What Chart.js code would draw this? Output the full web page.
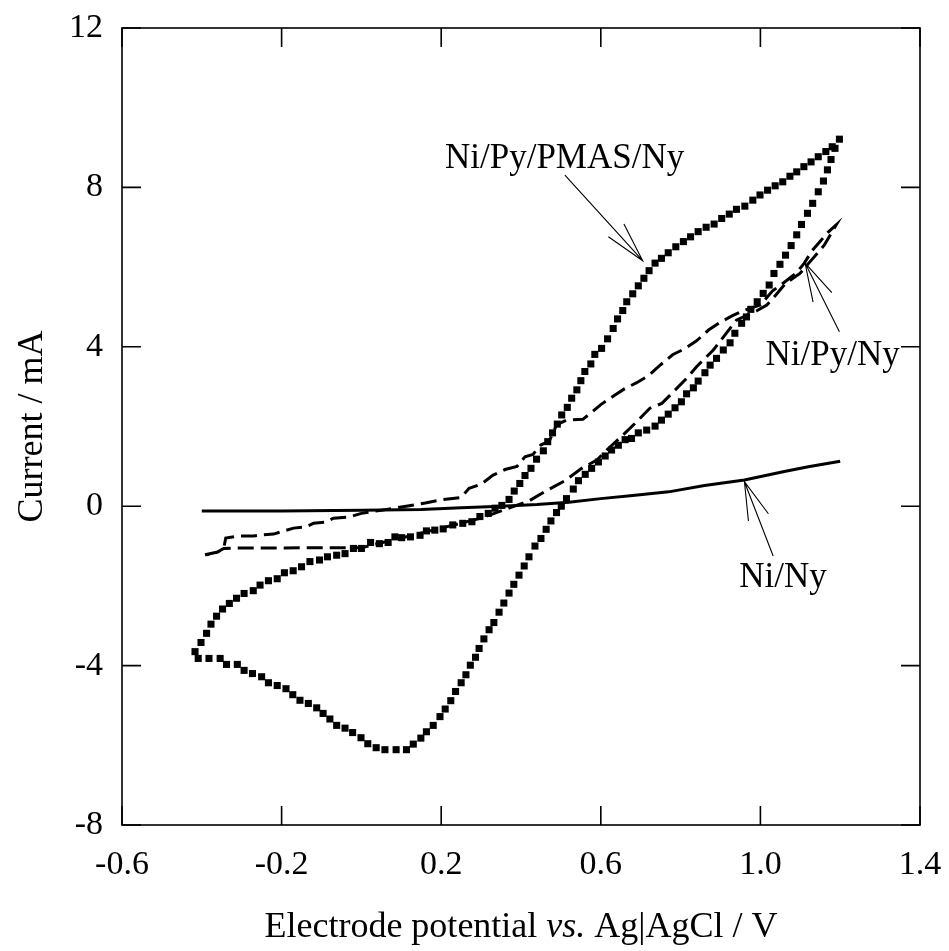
<!DOCTYPE html>
<html>
<head>
<meta charset="utf-8">
<script src="https://cdn.jsdelivr.net/npm/chart.js@4.4.1/dist/chart.umd.min.js"></script>
<style>
html,body{margin:0;padding:0;background:#fff;}
#wrap{width:949px;height:951px;}
</style>
</head>
<body>
<div id="wrap"><canvas id="c" width="949" height="951"></canvas></div>
<script>
// ---------- data ----------
const xTickValues = [-0.6, -0.2, 0.2, 0.6, 1.0, 1.4];
const yTickValues = [-8, -4, 0, 4, 8, 12];

const seriesNames = ['Ni/Py/PMAS/Ny', 'Ni/Py/Ny', 'Ni/Ny'];

// Ni/Py/PMAS/Ny : square markers, full cycle
const pmasX = [
 -0.417,-0.402,-0.388,-0.377,-0.363,-0.348,-0.331,-0.313,-0.294,-0.271,-0.254,-0.233,-0.211,-0.193,-0.171,-0.150,-0.129,-0.105,-0.085,-0.062,-0.041,-0.020,0.000,0.023,0.045,0.067,0.084,0.101,0.123,0.147,0.163,0.184,0.205,0.229,0.254,0.277,0.297,0.318,0.335,0.352,0.370,0.383,0.397,0.410,0.425,0.439,0.456,0.467,0.479,0.491,0.502,0.516,0.527,0.540,0.550,0.560,0.575,0.585,0.602,0.617,0.631,0.642,0.655,0.665,0.680,0.694,0.708,0.721,0.736,0.752,0.769,0.788,0.807,0.825,0.844,0.864,0.884,0.903,0.922,0.940,0.961,0.981,0.999,1.018,1.037,1.056,1.074,1.091,1.109,1.127,1.145,1.164,1.180,1.198,
 1.187,1.177,1.168,1.158,1.145,1.131,1.118,1.103,1.091,1.077,1.063,1.049,1.034,1.022,1.007,0.992,0.976,0.965,0.953,0.936,0.924,0.907,0.890,0.874,0.861,0.844,0.832,0.815,0.802,0.786,0.769,0.752,0.736,0.715,0.694,0.677,0.661,0.644,0.627,0.611,0.594,0.577,0.561,0.544,0.531,0.514,0.501,0.489,0.475,0.463,0.450,0.435,0.420,0.408,0.395,0.382,0.370,0.357,0.345,0.332,0.320,0.307,0.295,0.286,0.273,0.262,0.250,0.236,0.224,0.210,0.197,0.180,0.163,0.149,0.130,0.113,0.087,0.059,0.037,0.016,-0.001,-0.022,-0.041,-0.062,-0.079,-0.096,-0.112,-0.133,-0.154,-0.172,-0.189,-0.211,-0.233,-0.250,-0.273,-0.294,-0.311,-0.338,-0.354,-0.382,-0.409
];
const pmasY = [
 -3.65,-3.42,-3.19,-2.96,-2.76,-2.58,-2.44,-2.31,-2.19,-2.12,-1.98,-1.87,-1.82,-1.67,-1.62,-1.52,-1.39,-1.35,-1.27,-1.23,-1.19,-1.06,-1.06,-0.91,-0.94,-0.91,-0.77,-0.79,-0.77,-0.73,-0.62,-0.60,-0.57,-0.47,-0.43,-0.39,-0.26,-0.18,-0.05,0.02,0.17,0.38,0.57,0.77,0.95,1.18,1.39,1.62,1.84,2.06,2.29,2.48,2.71,2.92,3.15,3.38,3.57,3.81,3.96,4.20,4.46,4.70,4.91,5.13,5.33,5.53,5.72,5.91,6.10,6.22,6.36,6.51,6.64,6.76,6.89,7.00,7.08,7.22,7.33,7.45,7.53,7.68,7.81,7.93,8.04,8.14,8.28,8.39,8.52,8.64,8.77,8.90,9.02,9.21,
 8.98,8.70,8.44,8.16,7.89,7.60,7.35,7.07,6.81,6.54,6.30,6.07,5.84,5.55,5.34,5.13,4.94,4.75,4.59,4.34,4.10,3.92,3.71,3.54,3.35,3.14,2.97,2.82,2.62,2.47,2.31,2.16,2.01,1.91,1.84,1.70,1.67,1.53,1.41,1.26,1.11,0.95,0.80,0.64,0.43,0.19,0.00,-0.16,-0.37,-0.58,-0.81,-1.00,-1.27,-1.50,-1.73,-1.96,-2.18,-2.43,-2.66,-2.92,-3.10,-3.33,-3.57,-3.79,-3.99,-4.23,-4.43,-4.65,-4.88,-5.09,-5.28,-5.50,-5.66,-5.82,-5.97,-6.11,-6.11,-6.11,-6.06,-5.96,-5.81,-5.68,-5.57,-5.50,-5.34,-5.20,-5.06,-4.95,-4.87,-4.73,-4.58,-4.50,-4.43,-4.28,-4.20,-4.12,-3.97,-3.97,-3.82,-3.82,-3.82
];

// Ni/Py/Ny : dashed line, full cycle
const pyX = [
 -0.392,-0.360,-0.345,-0.340,-0.310,-0.270,-0.250,-0.220,-0.200,-0.170,-0.140,-0.120,-0.090,-0.070,-0.030,0.000,0.050,0.100,0.160,0.200,0.250,0.270,0.300,0.330,0.360,0.390,0.410,0.430,0.450,0.470,0.490,0.515,0.555,0.580,0.600,0.630,0.660,0.690,0.720,0.750,0.780,0.810,0.840,0.870,0.900,0.930,0.960,1.000,1.030,1.060,1.090,1.110,1.130,1.150,1.170,1.190,
 1.160,1.130,1.099,1.063,1.032,1.016,0.990,0.940,0.882,0.840,0.815,0.778,0.753,0.723,0.690,0.656,0.615,0.590,0.552,0.510,0.460,0.418,0.380,0.300,0.200,0.100,0.000,-0.100,-0.200,-0.320,-0.345,-0.370,-0.392
];
const pyY = [
 -1.22,-1.15,-1.06,-0.80,-0.75,-0.75,-0.72,-0.70,-0.64,-0.55,-0.52,-0.43,-0.40,-0.30,-0.27,-0.18,-0.10,-0.02,0.08,0.16,0.22,0.45,0.55,0.78,0.92,1.00,1.24,1.30,1.54,1.62,2.05,2.16,2.18,2.38,2.55,2.75,2.95,3.10,3.28,3.55,3.80,3.95,4.15,4.42,4.62,4.78,4.92,5.05,5.40,5.62,5.85,6.10,6.42,6.65,6.88,7.06,
 6.55,6.20,5.84,5.59,5.22,5.05,4.90,4.67,3.92,3.50,3.21,2.83,2.58,2.46,2.12,1.79,1.41,1.16,0.95,0.64,0.37,0.12,-0.01,-0.30,-0.55,-0.80,-1.04,-1.04,-1.05,-1.05,-1.06,-1.20,-1.22
];

// Ni/Ny : solid line
const niX = [-0.40,-0.20,0.00,0.15,0.25,0.35,0.44,0.52,0.60,0.68,0.77,0.86,0.96,1.06,1.12,1.20];
const niY = [-0.12,-0.12,-0.10,-0.08,-0.04,0.00,0.04,0.10,0.19,0.27,0.36,0.52,0.66,0.87,0.99,1.13];

// annotation anchors (data units)
const labelPos   = [[0.2095, 8.49], [1.013, 3.54], [0.947, -2.02]];
const arrowTail  = [[0.510, 8.31], [1.198, 4.38], [1.032, -1.25]];
const arrowTip   = [[0.705, 6.16], [1.112, 6.10], [0.960, 0.615]];
const arrowBarbA = [[0.619, 6.76], [1.132, 5.12], [0.970, -0.37]];
const arrowBarbB = [[0.658, 7.08], [1.179, 5.36], [1.020, -0.19]];

const xTitleParts = [['Electrode potential ', false], ['vs.', true], [' Ag|AgCl / V', false]];
const yTitle = 'Current / mA';

// ---------- chart ----------
const FONT = '"Liberation Serif", "Times New Roman", serif';
const zip = (xs, ys) => xs.map((x, i) => ({x: x, y: ys[i]}));

const framePlugin = {
  id: 'frame',
  afterDraw(chart) {
    const ctx = chart.ctx, a = chart.chartArea;
    const xs = chart.scales.x, ys = chart.scales.y;
    ctx.save();
    ctx.strokeStyle = '#000';
    ctx.lineWidth = 1.6;
    ctx.strokeRect(a.left, a.top, a.right - a.left, a.bottom - a.top);
    const TL = 19;
    ctx.beginPath();
    xTickValues.forEach(v => {
      const px = xs.getPixelForValue(v);
      ctx.moveTo(px, a.bottom); ctx.lineTo(px, a.bottom - TL);
      ctx.moveTo(px, a.top); ctx.lineTo(px, a.top + TL);
    });
    yTickValues.forEach(v => {
      const py = ys.getPixelForValue(v);
      ctx.moveTo(a.left, py); ctx.lineTo(a.left + TL, py);
      ctx.moveTo(a.right, py); ctx.lineTo(a.right - TL, py);
    });
    ctx.stroke();

    // annotations
    ctx.lineWidth = 1.1;
    ctx.fillStyle = '#000';
    ctx.font = '35px ' + FONT;
    ctx.textAlign = 'left';
    ctx.textBaseline = 'alphabetic';
    const P = p => [xs.getPixelForValue(p[0]), ys.getPixelForValue(p[1])];
    seriesNames.forEach((name, i) => {
      const t = P(labelPos[i]);
      ctx.fillText(name, t[0], t[1]);
      const tip = P(arrowTip[i]), tail = P(arrowTail[i]), b1 = P(arrowBarbA[i]), b2 = P(arrowBarbB[i]);
      ctx.beginPath();
      ctx.moveTo(tail[0], tail[1]); ctx.lineTo(tip[0], tip[1]);
      ctx.moveTo(b1[0], b1[1]); ctx.lineTo(tip[0], tip[1]); ctx.lineTo(b2[0], b2[1]);
      ctx.stroke();
    });

    // x title with italic "vs."
    let total = 0;
    const widths = xTitleParts.map(p => {
      ctx.font = (p[1] ? 'italic ' : '') + '36px ' + FONT;
      const w = ctx.measureText(p[0]).width; total += w; return w;
    });
    let x = (a.left + a.right) / 2 - total / 2;
    const yb = 937;
    xTitleParts.forEach((p, i) => {
      ctx.font = (p[1] ? 'italic ' : '') + '36px ' + FONT;
      ctx.fillText(p[0], x, yb);
      x += widths[i];
    });

    // y title
    ctx.save();
    ctx.translate(42, (a.top + a.bottom) / 2);
    ctx.rotate(-Math.PI / 2);
    ctx.font = '36px ' + FONT;
    ctx.textAlign = 'center';
    ctx.fillText(yTitle, 0, 0);
    ctx.restore();
    ctx.restore();
  }
};

new Chart(document.getElementById('c'), {
  type: 'scatter',
  data: {
    datasets: [
      {
        label: seriesNames[0],
        data: zip(pmasX, pmasY),
        showLine: false,
        pointStyle: 'rect',
        pointRadius: 5,
        pointBorderWidth: 0,
        pointBackgroundColor: '#000',
        borderColor: '#000',
        backgroundColor: '#000'
      },
      {
        label: seriesNames[1],
        data: zip(pyX, pyY),
        showLine: true,
        borderDash: [16, 7],
        borderWidth: 3,
        borderColor: '#000',
        pointRadius: 0,
        tension: 0
      },
      {
        label: seriesNames[2],
        data: zip(niX, niY),
        showLine: true,
        borderWidth: 3,
        borderColor: '#000',
        pointRadius: 0,
        tension: 0
      }
    ]
  },
  options: {
    responsive: false,
    animation: false,
    devicePixelRatio: 1,
    layout: { padding: { left: 0, right: 29, top: 28, bottom: 0 } },
    plugins: { legend: { display: false }, tooltip: { enabled: false } },
    scales: {
      x: {
        type: 'linear',
        min: -0.6, max: 1.4,
        grid: { display: false, drawTicks: false },
        border: { display: false },
        afterBuildTicks: s => { s.ticks = xTickValues.map(v => ({value: v})); },
        afterFit: s => { s.height = 126; s.paddingLeft = 0; s.paddingRight = 0; },
        ticks: {
          color: '#000',
          font: { family: FONT, size: 34 },
          padding: 20,
          maxRotation: 0,
          autoSkip: false,
          callback: v => v.toFixed(1)
        }
      },
      y: {
        type: 'linear',
        min: -8, max: 12,
        grid: { display: false, drawTicks: false },
        border: { display: false },
        afterBuildTicks: s => { s.ticks = yTickValues.map(v => ({value: v})); },
        afterFit: s => { s.width = 122; s.paddingTop = 0; s.paddingBottom = 0; },
        ticks: {
          color: '#000',
          font: { family: FONT, size: 34 },
          padding: 19,
          autoSkip: false,
          callback: v => String(v)
        }
      }
    }
  },
  plugins: [framePlugin]
});
</script>
</body>
</html>
